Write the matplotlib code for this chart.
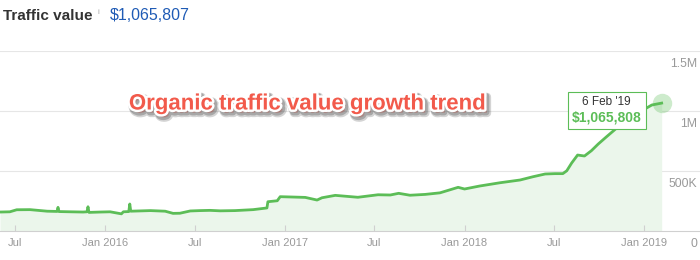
import matplotlib
import numpy as np
import pandas as pd

matplotlib.use("Agg")
import matplotlib.pyplot as plt
import matplotlib.patheffects as pe
from matplotlib.offsetbox import TextArea, VPacker, AnnotationBbox

plt.rcParams["font.family"] = ["Liberation Sans", "DejaVu Sans"]

# traffic value readings (thousand $)
dates = [
    "2015-06-01", "2015-06-21", "2015-07-05", "2015-08-01", "2015-09-05",
    "2015-09-25", "2015-09-27", "2015-09-29", "2015-10-22", "2015-11-17",
    "2015-11-25", "2015-11-27", "2015-11-29", "2015-12-22", "2016-01-11",
    "2016-02-03", "2016-02-07", "2016-02-18", "2016-02-20", "2016-02-22",
    "2016-04-02", "2016-05-02", "2016-05-18", "2016-06-01", "2016-06-22",
    "2016-07-12", "2016-08-01", "2016-08-22", "2016-09-21", "2016-10-28",
    "2016-11-25", "2016-11-27", "2016-12-16", "2016-12-22", "2017-01-17",
    "2017-02-11", "2017-03-07", "2017-03-17", "2017-04-13", "2017-05-03",
    "2017-05-29", "2017-07-09", "2017-08-03", "2017-08-20", "2017-09-12",
    "2017-10-13", "2017-11-12", "2017-12-19", "2018-01-01", "2018-02-01",
    "2018-03-14", "2018-04-24", "2018-05-20", "2018-06-14", "2018-07-04",
    "2018-07-20", "2018-07-28", "2018-08-07", "2018-08-19", "2018-09-02",
    "2018-09-16", "2018-09-30", "2018-10-17", "2018-11-02", "2018-11-18",
    "2018-12-09", "2018-12-30", "2019-01-17", "2019-02-06",
]
values_k = [
    158, 160, 177, 178, 165,
    163, 197, 162, 160, 158,
    160, 202, 155, 158, 160,
    143, 160, 162, 225, 165,
    170, 165, 147, 148, 167,
    170, 172, 168, 170, 178,
    192, 244, 252, 286, 283,
    280, 258, 277, 297, 290,
    281, 302, 300, 314, 298,
    305, 318, 364, 350, 375,
    402, 425, 452, 475, 478,
    478, 502, 567, 633, 625,
    669, 725, 786, 842, 900,
    952, 1008, 1050, 1065.808,
]

tick_dates = ["2015-07-01", "2016-01-01", "2016-07-01", "2017-01-01",
              "2017-07-01", "2018-01-01", "2018-07-01", "2019-01-01"]
tick_labels = ["Jul", "Jan 2016", "Jul", "Jan 2017",
               "Jul", "Jan 2018", "Jul", "Jan 2019"]

y_levels = [0, 500_000, 1_000_000, 1_500_000]
y_labels = ["0", "500K", "1M", "1.5M"]

header_value = "$1,065,807"
tip_date = "6 Feb '19"
tip_value = "$1,065,808"

green = "#5cbd57"
fill_green = "#ebf6eb"
grey_text = "#999999"

x = pd.to_datetime(dates)
y = np.array(values_k) * 1000

fig = plt.figure(figsize=(7, 2.6), dpi=100)
ax = fig.add_axes([0, 1 - 231 / 260, 1, 180 / 260])

ax.fill_between(x, y, 0, color=fill_green, lw=0, zorder=1)
ax.plot(x, y, color=green, lw=2, zorder=3, solid_joinstyle="round")

ax.set_xlim(pd.Timestamp("2015-06-01"), pd.Timestamp("2019-04-25"))
ax.set_ylim(0, 1_500_000)

for level in y_levels[1:]:
    ax.axhline(level, color="#e6e6e6", lw=0.8, zorder=0)

for level, label in zip(y_levels, y_labels):
    ax.annotate(label, xy=(1, level), xycoords=("axes fraction", "data"),
                xytext=(-3, -13), textcoords="offset pixels",
                ha="right", va="center", fontsize=8.8, color=grey_text)

for side in ["top", "left", "right"]:
    ax.spines[side].set_visible(False)
ax.spines["bottom"].set_color("#d0d0d0")
ax.spines["bottom"].set_linewidth(0.8)

ax.set_yticks([])
ax.set_xticks(pd.to_datetime(tick_dates))
ax.set_xticklabels(tick_labels)
ax.tick_params(axis="x", direction="in", length=4.5, width=0.8,
               color="#d0d0d0", labelsize=8, labelcolor=grey_text, pad=5)

# hover marker and tooltip
ax.plot(x[-1], y[-1], "o", ms=14, color=green, alpha=0.3, mec="none",
        zorder=4, clip_on=False)

tip = VPacker(children=[
    TextArea(tip_date, textprops=dict(fontsize=8.5, color="#333333")),
    TextArea(tip_value, textprops=dict(fontsize=10, color=green,
                                       fontweight="bold")),
], align="center", pad=0, sep=2)
ab = AnnotationBbox(tip, (x[-1], y[-1]), xybox=(-55, -7),
                    boxcoords="offset pixels", frameon=True, pad=0.3,
                    bboxprops=dict(ec=green, fc="white", lw=0.8), zorder=5)
ax.add_artist(ab)

# header
fig.text(3 / 700, 1 - 16 / 260, "Traffic value", fontsize=11,
         fontweight="bold", color="#333333", va="center")
fig.text(97 / 700, 1 - 12 / 260, "i", fontsize=6, color="#aaaaaa",
         va="center")
fig.text(110 / 700, 1 - 16 / 260, header_value, fontsize=11.5,
         color="#1f5bb5", va="center")

# overlay caption
fig.text(307 / 700, 1 - 104 / 260, "Organic traffic value growth trend",
         fontsize=16, fontweight="bold", color="#f25a4b",
         ha="center", va="center", zorder=10,
         path_effects=[
             pe.Stroke(linewidth=6, foreground="#555555", alpha=0.25,
                       offset=(2, -2.5)),
             pe.Stroke(linewidth=4.5, foreground="#555555", alpha=0.35,
                       offset=(1.5, -2)),
             pe.Stroke(linewidth=3.5, foreground="white"),
             pe.Normal(),
         ])

fig.savefig("out.png", dpi=100)
